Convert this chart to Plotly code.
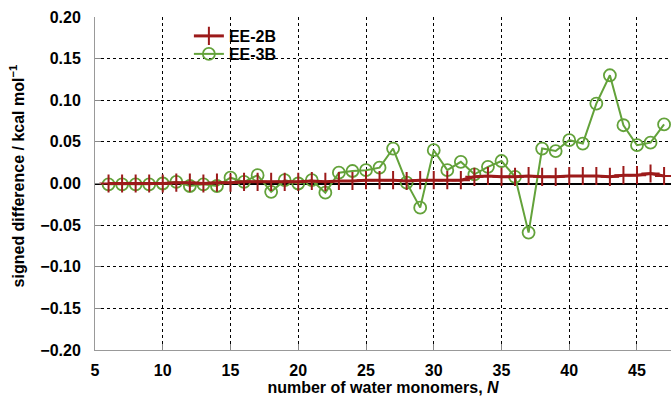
import plotly.graph_objects as go

N = list(range(6, 48))
ee2b = [0.000, 0.000, 0.000, 0.000, 0.000, 0.001, 0.001, 0.000, 0.001, 0.001,
        0.002, 0.002, 0.002, 0.002, 0.002, 0.003, 0.002, 0.003, 0.003, 0.004,
        0.004, 0.004, 0.003, 0.004, 0.004, 0.004, 0.004, 0.008, 0.009, 0.008,
        0.008, 0.009, 0.008, 0.008, 0.009, 0.009, 0.009, 0.008, 0.010, 0.010,
        0.012, 0.009]
ee3b = [-0.001, -0.001, -0.001, -0.001, 0.000, 0.002, -0.003, -0.001, -0.003, 0.007,
        0.002, 0.010, -0.010, 0.004, 0.000, 0.004, -0.011, 0.013, 0.015, 0.016,
        0.019, 0.042, 0.001, -0.029, 0.040, 0.016, 0.026, 0.011, 0.020, 0.027,
        0.008, -0.059, 0.042, 0.039, 0.052, 0.048, 0.096, 0.130, 0.070, 0.046,
        0.049, 0.071]

x_ticks = [5, 10, 15, 20, 25, 30, 35, 40, 45]
y_ticks = [-0.20, -0.15, -0.10, -0.05, 0.00, 0.05, 0.10, 0.15, 0.20]
y_ticklabels = ["\u22120.20", "\u22120.15", "\u22120.10", "\u22120.05", "0.00",
                "0.05", "0.10", "0.15", "0.20"]

RED = "#9c1a1a"
GREEN = "#63a23a"
FONT = "Liberation Sans"
FS = 16

fig = go.Figure()
fig.add_trace(go.Scatter(
    x=N, y=ee3b, name="EE-3B", mode="lines+markers", legend="legend2",
    line=dict(color=GREEN, width=2),
    marker=dict(symbol="circle-open", size=12, color=GREEN, line=dict(width=1.8)),
))
fig.add_trace(go.Scatter(
    x=N, y=ee2b, name="EE-2B", mode="lines+markers", legend="legend",
    line=dict(color=RED, width=3),
    marker=dict(symbol="cross-thin", size=13, color=RED, line=dict(width=2, color=RED)),
))

# white box behind legend (between gridlines and traces)
fig.add_shape(type="rect", xref="paper", yref="paper",
              x0=0.012, x1=0.337, y0=0.772, y1=0.994,
              fillcolor="white", line=dict(width=0), layer="between")

leg_common = dict(xanchor="left", yanchor="top", bgcolor="rgba(0,0,0,0)",
                  borderwidth=0, itemwidth=30,
                  font=dict(family=FONT, size=FS, color="black", weight="bold"))

fig.update_layout(
    width=671, height=400,
    margin=dict(l=95, r=0, t=17, b=50),
    plot_bgcolor="white", paper_bgcolor="white",
    font=dict(family=FONT, size=FS, color="black"),
    showlegend=True,
    legend=dict(x=0.163, y=0.994, **leg_common),
    legend2=dict(x=0.163, y=0.940, **leg_common),
    xaxis=dict(
        range=[5, 47.51], tickmode="array", tickvals=x_ticks,
        ticks="inside", ticklen=6, tickcolor="#888", ticklabelstandoff=6,
        showgrid=True, gridcolor="black", griddash="dot", gridwidth=1,
        showline=True, linecolor="#999", linewidth=1, zeroline=False,
        tickfont=dict(family=FONT, size=FS, weight="bold"),
        title=dict(text="number of water monomers, <i>N</i>", standoff=2,
                   font=dict(family=FONT, size=FS, weight="bold")),
    ),
    yaxis=dict(
        range=[-0.2, 0.2], tickmode="array", tickvals=y_ticks, ticktext=y_ticklabels,
        ticks="inside", ticklen=6, tickcolor="#888", ticklabelstandoff=10,
        showgrid=True, gridcolor="black", griddash="dot", gridwidth=1,
        showline=True, linecolor="#999", linewidth=1,
        zeroline=True, zerolinecolor="black", zerolinewidth=1.5,
        tickfont=dict(family=FONT, size=FS, weight="bold"),
    ),
    annotations=[dict(
        text="signed difference / kcal mol<sup>\u22121</sup>",
        xref="paper", yref="paper", x=-0.135, y=0.522, textangle=-90,
        showarrow=False, xanchor="center", yanchor="middle",
        font=dict(family=FONT, size=FS, weight="bold"),
    )],
)

fig.write_html("out.html", config={"displayModeBar": False},
               post_script="document.body.style.margin='0px';")
